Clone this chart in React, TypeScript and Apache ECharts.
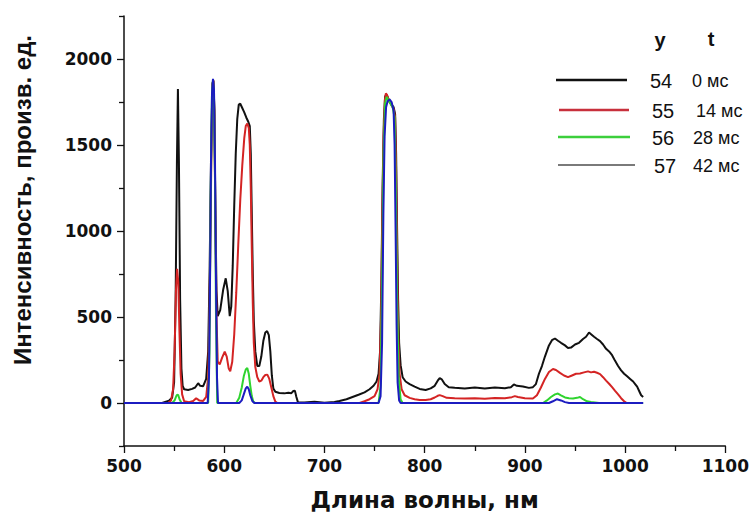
import React, { useEffect, useRef } from "react";
import * as echarts from "echarts";

// ---- Data (wavelength nm, intensity) ----
const xTickValues = [500, 600, 700, 800, 900, 1000, 1100];
const yTickValues = [0, 500, 1000, 1500, 2000];
const yMinorTickValues = [-250, 250, 750, 1250, 1750, 2250];

const frameNames = ["54", "55", "56", "57"];
const frameTimes = ["0 мс", "14 мс", "28 мс", "42 мс"];
const plotColors = ["#111111", "#d42424", "#2fd42f", "#1c1cc0"];
const legendColors = ["#111111", "#c8303c", "#3ccf3c", "#7a7a7a"];

const s54: [number, number][] = [
  [500, 0], [538, 0], [541, 6], [545, 14], [548, 30], [550, 120], [551.5, 600], [552.8, 1400], [553.8, 1825], [554.8, 1400],
  [556, 600], [557.3, 200], [558.5, 100], [560, 80], [564, 76], [568, 82], [571, 90], [574, 115], [576, 100], [579, 98],
  [582, 140], [584, 300], [585.5, 800], [587, 1500], [588.3, 1860], [589.2, 1875], [590.2, 1700], [591.2, 1100], [592.3, 650], [593.5, 505],
  [596, 540], [599, 660], [601.5, 725], [603.5, 650], [605.5, 505], [607, 560], [608.5, 800], [610, 1150], [611.5, 1450], [613, 1650],
  [614.5, 1735], [616, 1740], [618, 1715], [620, 1690], [622, 1660], [624, 1635], [625.5, 1610], [626.5, 1450], [627.5, 1100], [628.5, 750],
  [629.5, 480], [631, 300], [633, 215], [635, 215], [637, 270], [639, 360], [641, 410], [642.8, 418], [644.5, 395], [646, 300],
  [647.5, 160], [649, 85], [651, 65], [655, 58], [660, 56], [664, 60], [667, 57], [669, 70], [670.5, 72], [672, 35],
  [673.5, 5], [680, 3], [690, 8], [700, 2], [710, 6], [715, 12], [722, 22], [728, 35], [734, 48], [740, 62],
  [745, 80], [749, 100], [752, 125], [754, 170], [755.5, 300], [756.8, 700], [758, 1250], [759.3, 1650], [760.5, 1780], [761.5, 1795],
  [763, 1780], [765, 1750], [767, 1735], [769, 1720], [770.5, 1680], [771.5, 1450], [772.5, 1000], [773.5, 600], [774.5, 350], [776, 220],
  [778, 150], [781, 125], [785, 110], [790, 95], [795, 82], [801, 76], [806, 85], [810, 100], [813, 130], [815, 145],
  [817, 138], [820, 110], [824, 92], [830, 88], [840, 85], [850, 90], [860, 84], [870, 90], [880, 86], [886, 92],
  [889, 108], [892, 100], [898, 96], [904, 88], [908, 92], [911, 110], [914, 170], [917, 215], [920, 270], [924, 335],
  [927, 365], [930, 375], [933, 362], [936, 350], [940, 335], [943, 320], [946, 322], [950, 340], [954, 350], [958, 372],
  [961, 385], [964, 410], [966, 400], [969, 385], [972, 372], [975, 360], [978, 340], [981, 315], [984, 300], [987, 278],
  [990, 245], [993, 215], [996, 190], [999, 170], [1002, 155], [1005, 140], [1008, 125], [1010, 110], [1012, 95], [1014, 70],
  [1016, 45], [1018, 35],
];

const s55: [number, number][] = [
  [500, 0], [544, 0], [547, 15], [549, 80], [550.5, 300], [551.8, 650], [553, 780], [554.2, 700], [555.3, 420], [556.5, 170],
  [558, 50], [560, 10], [565, 5], [569, 12], [572, 28], [575, 15], [579, 12], [582, 35], [584, 150], [585.5, 600],
  [587, 1350], [588.3, 1850], [589.2, 1875], [590.2, 1680], [591.2, 1050], [592.3, 500], [593.5, 240], [595.5, 225], [598, 265], [600.5, 298],
  [602.5, 270], [604.5, 200], [606, 185], [608, 240], [610, 400], [612, 640], [614, 920], [616, 1180], [618, 1380], [620, 1540],
  [621.5, 1610], [623, 1625], [624.5, 1600], [625.5, 1500], [626.5, 1250], [627.5, 900], [628.5, 580], [629.5, 350], [631, 210], [633, 150],
  [635, 125], [637, 130], [639, 150], [641, 163], [643, 165], [645, 140], [647, 90], [649, 40], [651, 8], [653, 0],
  [735, 0], [740, 10], [745, 22], [750, 40], [753, 80], [755, 170], [756.5, 500], [757.8, 1100], [759, 1550], [760.3, 1760],
  [761.3, 1800], [762.5, 1790], [765, 1750], [767, 1730], [769, 1710], [770.5, 1660], [771.5, 1350], [772.5, 850], [773.5, 420], [775, 170],
  [777, 80], [780, 45], [785, 30], [790, 22], [795, 18], [801, 17], [806, 22], [810, 32], [813, 42], [815, 46],
  [818, 40], [822, 30], [830, 28], [840, 26], [850, 28], [860, 25], [870, 29], [880, 27], [887, 34], [890, 40],
  [893, 35], [900, 28], [908, 26], [912, 45], [916, 90], [920, 140], [924, 180], [928, 198], [931, 192], [935, 175],
  [939, 160], [943, 150], [947, 160], [951, 170], [955, 172], [959, 178], [963, 184], [966, 178], [969, 182], [972, 176],
  [975, 168], [978, 150], [981, 130], [984, 112], [987, 92], [990, 70], [993, 50], [996, 28], [999, 10], [1001, 2],
];

const s56: [number, number][] = [
  [500, 0], [548, 0], [550.5, 15], [552.5, 45], [554, 48], [555.5, 20], [557.5, 0], [584, 0], [585.3, 300], [586.5, 1200],
  [587.8, 1800], [588.8, 1878], [589.8, 1780], [590.8, 1300], [591.8, 500], [593, 0], [612, 0], [615, 30], [617.5, 90], [619.5, 155],
  [621.5, 195], [623, 203], [624.5, 170], [626, 100], [627.5, 40], [629, 8], [631, 0], [754, 0], [756, 100], [757.5, 700],
  [759, 1450], [760.5, 1740], [762, 1780], [765, 1750], [768, 1720], [770, 1660], [771.2, 1250], [772.5, 600], [774, 150], [776, 20],
  [778, 0], [918, 0], [922, 15], [926, 35], [930, 50], [933, 55], [936, 45], [940, 32], [944, 28], [948, 26],
  [952, 30], [955, 35], [958, 22], [962, 10], [966, 6], [970, 3], [974, 0], [1018, 0],
];

const s57: [number, number][] = [
  [500, 0], [583.5, 0], [584.8, 150], [585.8, 700], [586.8, 1400], [587.8, 1800], [588.8, 1885], [589.8, 1820], [590.8, 1400], [591.8, 700],
  [592.8, 150], [593.8, 0], [615, 0], [617.5, 15], [619.5, 50], [621.5, 85], [623, 95], [624.5, 80], [626, 45], [628, 12],
  [630, 0], [754, 0], [756, 40], [757.5, 350], [758.8, 1100], [760, 1550], [761.5, 1720], [763, 1755], [765, 1765], [767, 1750],
  [769, 1700], [770, 1500], [771, 1000], [772, 450], [773, 120], [774.5, 15], [776, 0], [924, 0], [928, 10], [932, 22],
  [936, 15], [940, 5], [944, 0], [1018, 0],
];

const seriesData = [s54, s55, s56, s57];

const TICK_FONT = "DejaVu Sans";
const SANS = "Liberation Sans, Arial, sans-serif";

export default function App() {
  const ref = useRef<HTMLDivElement>(null);

  useEffect(() => {
    if (!ref.current) return;
    const chart = echarts.init(ref.current, undefined, { renderer: "svg" });

    const legendRows = [80, 110, 137, 165];
    const legendLineX = [
      [556, 627],
      [559, 629],
      [558, 630],
      [558, 635],
    ];
    const legendNumX = [650, 652, 652, 654];
    const legendTimeX = [692, 696, 693, 693];

    const graphic: any[] = [
      {
        type: "text",
        x: 22,
        y: 200,
        rotation: Math.PI / 2,
        style: {
          text: "Интенсивность, произв. ед.",
          fontSize: 24,
          fontWeight: "bold",
          fontFamily: SANS,
          fill: "#111",
          align: "center",
          verticalAlign: "middle",
        },
      },
      {
        type: "text",
        x: 660,
        y: 40,
        style: { text: "y", fontSize: 20, fontWeight: "bold", fontFamily: SANS, fill: "#111", align: "center", verticalAlign: "middle" },
      },
      {
        type: "text",
        x: 711,
        y: 39,
        style: { text: "t", fontSize: 20, fontWeight: "bold", fontFamily: SANS, fill: "#111", align: "center", verticalAlign: "middle" },
      },
    ];
    frameNames.forEach((n, i) => {
      graphic.push({
        type: "line",
        shape: { x1: legendLineX[i][0], y1: legendRows[i], x2: legendLineX[i][1], y2: legendRows[i] },
        style: { stroke: legendColors[i], lineWidth: i === 3 ? 2 : 2.5 },
      });
      graphic.push({
        type: "text",
        x: legendNumX[i],
        y: legendRows[i] + 1,
        style: { text: n, fontSize: 20, fontFamily: SANS, fill: "#111", align: "left", verticalAlign: "middle" },
      });
      graphic.push({
        type: "text",
        x: legendTimeX[i],
        y: legendRows[i] + 1,
        style: { text: frameTimes[i], fontSize: 18, fontFamily: SANS, fill: "#111", align: "left", verticalAlign: "middle" },
      });
    });

    const plain = (v: number) => String(v);

    const option: any = {
      animation: false,
      backgroundColor: "#ffffff",
      grid: { left: 124, right: 25, top: 16, bottom: 76 },
      xAxis: {
        type: "value",
        min: 500,
        max: 1100,
        interval: 100,
        name: "Длина волны, нм",
        nameLocation: "middle",
        nameGap: 42,
        nameTextStyle: { fontSize: 23, fontWeight: "bold", fontFamily: TICK_FONT, color: "#111" },
        axisLine: { show: true, onZero: false, lineStyle: { color: "#111", width: 1.5 } },
        axisTick: { show: true, length: 7, lineStyle: { color: "#111", width: 1.3 } },
        minorTick: { show: true, splitNumber: 2, length: 5, lineStyle: { color: "#111", width: 1.3 } },
        axisLabel: {
          fontSize: 17,
          fontWeight: "bold",
          fontFamily: TICK_FONT,
          color: "#111",
          margin: 11,
          formatter: plain,
          customValues: xTickValues,
        },
        splitLine: { show: false },
      },
      yAxis: [
        {
          type: "value",
          min: -250,
          max: 2250,
          axisLine: { show: true, onZero: false, lineStyle: { color: "#111", width: 1.5 } },
          axisTick: { show: true, length: 7, customValues: yTickValues, lineStyle: { color: "#111", width: 1.3 } },
          axisLabel: {
            fontSize: 17,
            fontWeight: "bold",
            fontFamily: TICK_FONT,
            color: "#111",
            margin: 12,
            formatter: plain,
            customValues: yTickValues,
          },
          splitLine: { show: false },
        },
        {
          type: "value",
          min: -250,
          max: 2250,
          position: "left",
          axisLine: { show: false },
          axisTick: { show: true, length: 5, customValues: yMinorTickValues, lineStyle: { color: "#111", width: 1.3 } },
          axisLabel: { show: false },
          splitLine: { show: false },
        },
      ],
      series: seriesData.map((d, i) => ({
        type: "line",
        name: frameNames[i],
        data: d,
        yAxisIndex: 0,
        showSymbol: false,
        symbol: "none",
        lineStyle: { color: plotColors[i], width: 2 },
        z: 2 + i,
      })),
      graphic,
    };

    chart.setOption(option);
    return () => chart.dispose();
  }, []);

  return (
    <div
      ref={ref}
      style={{ position: "fixed", left: 0, top: 0, width: 752, height: 522 }}
    />
  );
}
